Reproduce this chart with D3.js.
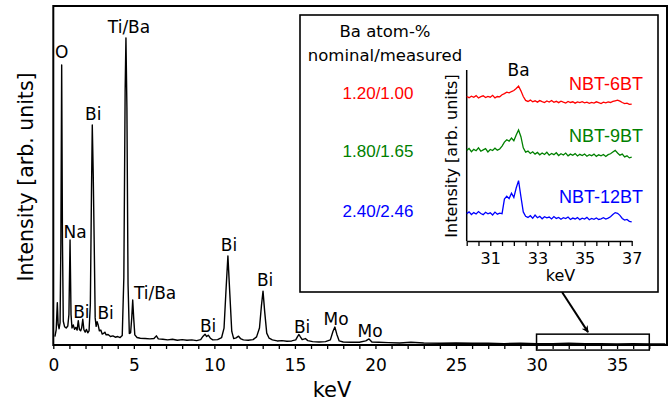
<!DOCTYPE html>
<html>
<head>
<meta charset="utf-8">
<script src="https://cdn.jsdelivr.net/npm/d3@7"></script>
<style>
  body { margin: 0; background: #fff; }
  svg text { font-family: "DejaVu Sans", Verdana, sans-serif; fill: #000; }
  .arial { font-family: "Liberation Sans", Arial, sans-serif; }
</style>
</head>
<body>
<script>
// ---- main EDX spectrum (keV, intensity in arb. units)
const spectrumKeV = [0.10, 0.18, 0.25, 0.30, 0.36, 0.42, 0.47, 0.52, 0.57, 0.62, 0.70, 0.80, 0.90, 0.97, 1.04, 1.10, 1.16, 1.24, 1.32, 1.40,
  1.48, 1.55, 1.62, 1.70, 1.76, 1.83, 1.90, 1.98, 2.06, 2.14, 2.22, 2.30, 2.37, 2.42, 2.48, 2.54, 2.60, 2.66, 2.72, 2.78,
  2.86, 2.95, 3.04, 3.12, 3.20, 3.28, 3.40, 3.55, 3.70, 3.85, 4.00, 4.15, 4.28, 4.38, 4.46, 4.51, 4.57, 4.64, 4.72, 4.80,
  4.87, 4.93, 4.99, 5.06, 5.20, 5.40, 5.70, 6.00, 6.25, 6.40, 6.52, 6.80, 7.10, 7.40, 7.70, 8.00, 8.30, 8.60, 8.90, 9.15,
  9.30, 9.42, 9.52, 9.62, 9.75, 9.90, 10.20, 10.45, 10.60, 10.72, 10.84, 10.96, 11.08, 11.20, 11.35, 11.50, 11.62, 11.80, 12.10, 12.40,
  12.62, 12.80, 12.92, 13.02, 13.12, 13.25, 13.40, 13.60, 13.90, 14.20, 14.50, 14.80, 15.05, 15.18, 15.25, 15.34, 15.45, 15.65, 15.80, 16.10,
  16.50, 16.90, 17.20, 17.36, 17.48, 17.60, 17.75, 18.00, 18.50, 19.00, 19.40, 19.60, 19.78, 20.20, 20.80, 21.50, 22.20, 23.00, 24.00, 25.00,
  26.00, 27.00, 28.00, 29.00, 30.00, 31.00, 32.00, 33.00, 34.00, 35.00, 36.00, 37.00, 38.00];
const spectrumInt = [2.5, 4.5, 12.5, 6.0, 4.8, 6.5, 30, 82.6, 30, 7.0, 5.4, 5.0, 5.6, 9.0, 31.0, 9.0, 5.0, 5.9, 4.6, 5.2,
  4.4, 7.2, 4.6, 4.2, 5.0, 7.6, 4.5, 3.8, 4.6, 3.6, 4.2, 12, 45, 64.9, 50, 30, 8, 5.5, 6.9, 6.0,
  4.2, 4.4, 3.2, 3.4, 3.8, 3.0, 3.1, 2.5, 2.7, 2.3, 2.5, 2.2, 2.8, 20, 75, 90.6, 70, 18, 3.4, 3.6,
  8, 13.3, 8, 3.0, 2.2, 2.0, 1.9, 1.8, 1.9, 2.7, 1.8, 1.7, 1.5, 1.7, 1.4, 1.6, 1.4, 1.5, 1.3, 1.6,
  2.6, 3.2, 2.5, 2.9, 2.0, 1.5, 1.6, 2.2, 5, 16, 26.3, 15, 4, 1.9, 2.1, 2.6, 1.9, 1.5, 1.4, 1.6,
  2.4, 5, 11.5, 15.9, 10, 3.5, 2.0, 1.5, 1.2, 1.3, 1.1, 1.2, 1.5, 2.6, 3.1, 2.4, 1.6, 1.9, 1.3, 1.0,
  0.9, 1.0, 1.5, 4.0, 5.3, 3.2, 1.2, 0.9, 0.8, 0.8, 1.2, 1.8, 0.9, 0.8, 0.7, 0.6, 0.8, 0.6, 0.5, 0.6,
  0.5, 0.5, 0.4, 0.5, 0.4, 0.4, 0.5, 0.4, 0.4, 0.3, 0.4, 0.3, 0.3];

// peak labels: text, label centre (keV), label baseline (intensity)
const peakNames = ["O", "Ti/Ba", "Bi", "Na", "Bi", "Bi", "Ti/Ba", "Bi", "Bi", "Bi", "Bi", "Mo", "Mo"];
const peakLabelKeV = [0.52, 4.70, 2.48, 1.35, 1.74, 3.25, 6.32, 9.61, 10.91, 13.15, 15.45, 17.56, 19.67];
const peakLabelInt = [84.7, 92.0, 66.4, 31.7, 8.0, 7.7, 13.6, 3.9, 27.7, 17.4, 3.6, 5.9, 2.3];

const xTicksMain = d3.range(0, 38, 1);
const xLabelsMain = [0, 5, 10, 15, 20, 25, 30, 35];
const zoomRange = [30, 37];

// ---- inset: Ba K region, 30.0 - 37.0 keV in 0.1 keV channels (stacked, arb. units)
const insetStartKeV = 30;
const insetStepKeV = 0.1;
const samples = ["NBT-6BT", "NBT-9BT", "NBT-12BT"];
const baRatio = ["1.20/1.00", "1.80/1.65", "2.40/2.46"];
const sampleColors = ["#ff0000", "#008000", "#0000ff"];
const nbt6 = [8.45, 8.38, 8.47, 8.40, 8.50, 8.36, 8.44, 8.49, 8.39, 8.46, 8.41, 8.52, 8.37, 8.45, 8.43, 8.55,
  8.62, 8.70, 8.66, 8.74, 8.80, 8.92, 9.06, 8.78, 8.45, 8.22, 8.16, 8.24, 8.14, 8.20, 8.12, 8.21, 8.15, 8.10, 8.19,
  8.13, 8.22, 8.11, 8.17, 8.09, 8.18, 8.12, 8.07, 8.16, 8.10, 8.14, 8.06, 8.13, 8.09, 8.15, 8.08, 8.12, 8.05, 8.11,
  8.07, 8.14, 8.09, 8.04, 8.12, 8.08, 8.13, 8.10, 8.16, 8.20, 8.24, 8.18, 8.10, 8.03, 8.06, 7.99, 8.01];
const nbt9 = [5.30, 5.41, 5.22, 5.36, 5.28, 5.45, 5.25, 5.33, 5.40, 5.21, 5.35, 5.29, 5.43, 5.31, 5.38, 5.55,
  5.78, 5.92, 5.84, 6.02, 5.86, 6.20, 6.49, 6.10, 5.45, 5.20, 5.26, 5.12, 5.22, 5.08, 5.18, 5.04, 5.15, 5.06, 5.19,
  5.02, 5.12, 5.05, 5.16, 5.00, 5.10, 5.03, 5.14, 4.98, 5.08, 5.01, 5.11, 4.97, 5.07, 5.00, 5.09, 4.96, 5.05, 4.99,
  5.08, 4.95, 5.04, 4.98, 5.06, 4.94, 5.05, 5.10, 5.20, 5.30, 5.15, 5.02, 5.08, 4.92, 4.98, 4.86, 4.90];
const nbt12 = [1.60, 1.70, 1.55, 1.66, 1.58, 1.72, 1.61, 1.54, 1.68, 1.59, 1.65, 1.52, 1.69, 1.57, 1.63, 1.60,
  2.45, 2.62, 2.48, 2.80, 2.55, 3.10, 3.53, 2.60, 1.70, 1.45, 1.38, 1.48, 1.33, 1.52, 1.36, 1.44, 1.30, 1.42, 1.35,
  1.40, 1.29, 1.43, 1.32, 1.38, 1.27, 1.36, 1.31, 1.40, 1.26, 1.34, 1.29, 1.37, 1.25, 1.33, 1.28, 1.38, 1.24, 1.32,
  1.27, 1.35, 1.26, 1.30, 1.36, 1.28, 1.34, 1.42, 1.55, 1.66, 1.62, 1.50, 1.32, 1.22, 1.26, 1.15, 1.12];
const insetTicks = d3.range(30, 37.01, 0.5);
const insetTickLabels = [31, 33, 35, 37];

// ---- layout
const W = 671, H = 405;
const plot = { left: 53.3, right: 667, top: 6, bottom: 345 };
const inset = { left: 300, top: 15, right: 658, bottom: 292 };
const insetPlot = { left: 466.7, right: 631.7, top: 70, bottom: 241 };

const svg = d3.select("body").append("svg")
  .attr("width", W)
  .attr("height", H);

const x = d3.scaleLinear().domain([0, 38.1]).range([plot.left, plot.right]);
const y = d3.scaleLinear().domain([0, 100]).range([plot.bottom, plot.top]);

// ticks on the bottom axis (labels every 5 keV)
svg.append("g")
  .attr("transform", `translate(0,${plot.bottom})`)
  .call(d3.axisBottom(x).tickValues(xTicksMain).tickSize(4).tickSizeOuter(0)
    .tickFormat(d => xLabelsMain.includes(d) ? d : ""))
  .call(g => g.select(".domain").remove())
  .call(g => g.selectAll(".tick line").attr("stroke", "#000").attr("stroke-width", 1.3))
  .call(g => g.selectAll(".tick text")
    .attr("y", 10)
    .attr("dy", "0.95em")
    .style("font-family", "DejaVu Sans")
    .style("font-size", "17px"));

// frame
svg.append("rect")
  .attr("x", plot.left)
  .attr("y", plot.top)
  .attr("width", plot.right - plot.left)
  .attr("height", plot.bottom - plot.top)
  .attr("fill", "none")
  .attr("stroke", "#000")
  .attr("stroke-width", 2);

// spectrum
const spectrum = spectrumKeV.map((k, i) => [k, spectrumInt[i]]);
svg.append("path")
  .datum(spectrum)
  .attr("fill", "none")
  .attr("stroke", "#000")
  .attr("stroke-width", 1.4)
  .attr("stroke-linejoin", "round")
  .attr("d", d3.line().x(d => x(d[0])).y(d => y(d[1])));

// peak labels
svg.selectAll("text.peak")
  .data(peakNames)
  .enter()
  .append("text")
  .attr("class", "peak")
  .attr("x", (d, i) => x(peakLabelKeV[i]))
  .attr("y", (d, i) => y(peakLabelInt[i]))
  .attr("text-anchor", "middle")
  .style("font-size", "17px")
  .text(d => d);

// axis titles
svg.append("text")
  .attr("x", 332)
  .attr("y", 397)
  .attr("text-anchor", "middle")
  .style("font-size", "21px")
  .text("keV");

svg.append("text")
  .attr("transform", "translate(33,177) rotate(-90)")
  .attr("text-anchor", "middle")
  .style("font-size", "20.5px")
  .text("Intensity [arb. units]");

// zoom box on the main axis + arrow
svg.append("defs").append("marker")
  .attr("id", "arrow")
  .attr("viewBox", "0 0 10 10")
  .attr("refX", 9)
  .attr("refY", 5)
  .attr("markerWidth", 9)
  .attr("markerHeight", 7)
  .attr("markerUnits", "userSpaceOnUse")
  .attr("orient", "auto")
  .append("path")
  .attr("d", "M0,0 L10,5 L0,10 L3,5 Z")
  .attr("fill", "#000");

svg.append("rect")
  .attr("x", x(zoomRange[0]))
  .attr("y", y(3.2))
  .attr("width", x(zoomRange[1]) - x(zoomRange[0]))
  .attr("height", y(-1.5) - y(3.2))
  .attr("fill", "none")
  .attr("stroke", "#000")
  .attr("stroke-width", 1.5);

svg.append("line")
  .attr("x1", 562)
  .attr("y1", inset.bottom)
  .attr("x2", x(33.2))
  .attr("y2", y(3.2) - 2)
  .attr("stroke", "#000")
  .attr("stroke-width", 2)
  .attr("marker-end", "url(#arrow)");

// ---- inset
svg.append("rect")
  .attr("x", inset.left)
  .attr("y", inset.top)
  .attr("width", inset.right - inset.left)
  .attr("height", inset.bottom - inset.top)
  .attr("fill", "#fff")
  .attr("stroke", "#000")
  .attr("stroke-width", 1.6);

svg.append("text")
  .attr("x", 385)
  .attr("y", 37)
  .attr("text-anchor", "middle")
  .style("font-size", "16.5px")
  .text("Ba atom-%");

svg.append("text")
  .attr("x", 385)
  .attr("y", 60.5)
  .attr("text-anchor", "middle")
  .style("font-size", "16.5px")
  .text("nominal/measured");

const xi = d3.scaleLinear().domain([30, 37]).range([insetPlot.left, insetPlot.right]);
const yi = d3.scaleLinear().domain([0, 10]).range([insetPlot.bottom, insetPlot.top]);

svg.append("g")
  .attr("transform", `translate(0,${insetPlot.bottom})`)
  .call(d3.axisBottom(xi).tickValues(insetTicks).tickSize(5).tickSizeOuter(0)
    .tickFormat(d => insetTickLabels.includes(d) ? d : ""))
  .call(g => g.select(".domain").attr("stroke-width", 1.5))
  .call(g => g.selectAll(".tick line").attr("stroke-width", 1.3))
  .call(g => g.selectAll(".tick text")
    .attr("y", 8)
    .attr("dy", "0.95em")
    .style("font-family", "DejaVu Sans")
    .style("font-size", "16px"));

svg.append("line")
  .attr("x1", insetPlot.left)
  .attr("x2", insetPlot.left)
  .attr("y1", insetPlot.top)
  .attr("y2", insetPlot.bottom)
  .attr("stroke", "#000")
  .attr("stroke-width", 1.5);

svg.append("text")
  .attr("x", 560.5)
  .attr("y", 281)
  .attr("text-anchor", "middle")
  .style("font-size", "16px")
  .text("keV");

svg.append("text")
  .attr("transform", "translate(457,156) rotate(-90)")
  .attr("text-anchor", "middle")
  .style("font-size", "16px")
  .text("Intensity [arb. units]");

svg.append("text")
  .attr("x", xi(32.2))
  .attr("y", 76)
  .attr("text-anchor", "middle")
  .style("font-size", "17px")
  .text("Ba");

const insetSeries = [nbt6, nbt9, nbt12];
const insetLine = d3.line()
  .x((d, i) => xi(insetStartKeV + i * insetStepKeV))
  .y(d => yi(d));

insetSeries.forEach((s, k) => {
  svg.append("path")
    .datum(s)
    .attr("fill", "none")
    .attr("stroke", sampleColors[k])
    .attr("stroke-width", 1.3)
    .attr("d", insetLine);
});

const sampleLabelY = [90, 142, 203];
const ratioLabelY = [99, 156.5, 216.5];

svg.selectAll("text.sample")
  .data(samples)
  .enter()
  .append("text")
  .attr("class", "sample arial")
  .attr("x", 643)
  .attr("y", (d, i) => sampleLabelY[i])
  .attr("text-anchor", "end")
  .style("font-size", "18px")
  .style("fill", (d, i) => sampleColors[i])
  .text(d => d);

svg.selectAll("text.ratio")
  .data(baRatio)
  .enter()
  .append("text")
  .attr("class", "ratio arial")
  .attr("x", 378)
  .attr("y", (d, i) => ratioLabelY[i])
  .attr("text-anchor", "middle")
  .style("font-size", "17px")
  .style("fill", (d, i) => sampleColors[i])
  .text(d => d);
</script>
</body>
</html>
